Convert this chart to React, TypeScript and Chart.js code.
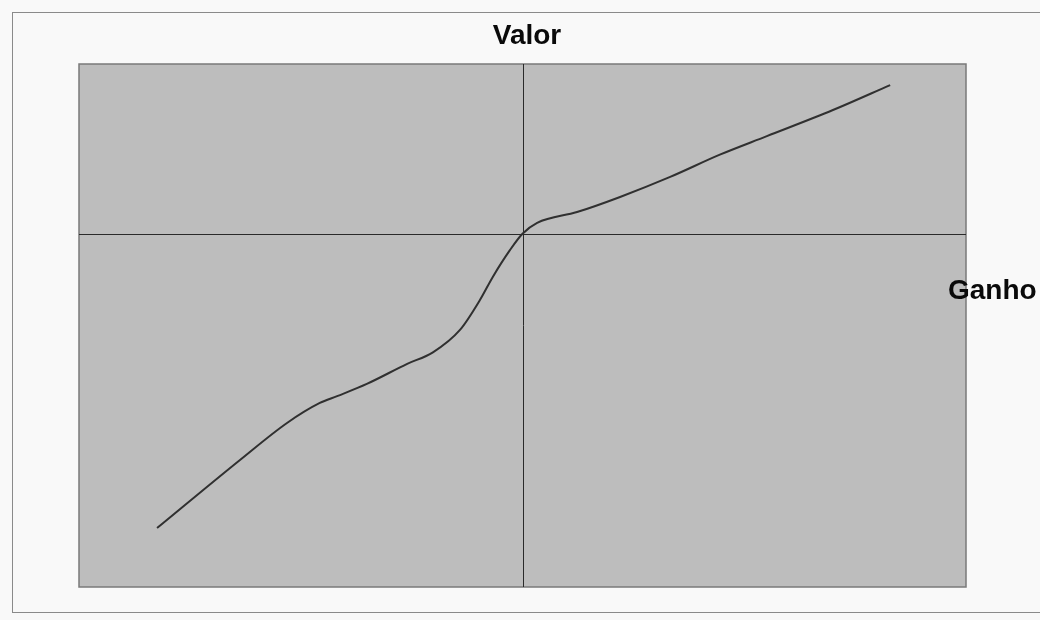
import React, { useEffect, useRef } from "react";
import { Chart, registerables } from "chart.js";

Chart.register(...registerables);

// Gain (x) and value (y) of the curve
const gainX = [-82.4, -63.7, -53.1, -45.7, -41.8, -35.1, -26.0, -20.2, -14.1, -9.6, -6.7, -2.8, 0, 3.3, 12.3, 22.0, 33.3, 44.5, 55.1, 70.0, 82.9];
const valueY = [-173.3, -133.2, -111.4, -99.6, -95.6, -88.4, -76.6, -69.8, -56.6, -39.0, -25.4, -9.5, 0, 6.4, 12.8, 21.7, 33.5, 46.6, 57.5, 72.9, 87.6];

const xRange = [-100, 100];
const yRange = [-208, 100];

const titleText = "Valor";
const xAxisLabel = "Ganho";

const framePlugin = {
  id: "frameDecor",
  beforeDraw(chart: any) {
    const { ctx, chartArea, width, height } = chart;
    ctx.save();
    ctx.fillStyle = "#f9f9f9";
    ctx.fillRect(0, 0, width, height);
    // outer frame
    ctx.strokeStyle = "#8a8a8a";
    ctx.lineWidth = 1;
    ctx.strokeRect(12.5, 12.5, width, 600);
    // plot area
    ctx.fillStyle = "#bdbdbd";
    ctx.fillRect(chartArea.left, chartArea.top, chartArea.right - chartArea.left, chartArea.bottom - chartArea.top);
    ctx.strokeStyle = "#7a7a7a";
    ctx.lineWidth = 1.5;
    ctx.strokeRect(chartArea.left, chartArea.top, chartArea.right - chartArea.left, chartArea.bottom - chartArea.top);
    ctx.restore();
  },
  beforeDatasetsDraw(chart: any) {
    const { ctx, chartArea, scales } = chart;
    const x0 = Math.round(scales.x.getPixelForValue(0)) + 0.5;
    const y0 = Math.round(scales.y.getPixelForValue(0)) + 0.5;
    ctx.save();
    ctx.strokeStyle = "#2a2a2a";
    ctx.lineWidth = 1;
    ctx.beginPath();
    ctx.moveTo(x0, chartArea.top);
    ctx.lineTo(x0, chartArea.bottom);
    ctx.moveTo(chartArea.left, y0);
    ctx.lineTo(chartArea.right, y0);
    ctx.stroke();
    ctx.restore();
  },
  afterDraw(chart: any) {
    const { ctx } = chart;
    ctx.save();
    ctx.fillStyle = "#0a0a0a";
    ctx.font = "bold 28px 'Liberation Sans', Arial, sans-serif";
    ctx.textBaseline = "alphabetic";
    ctx.textAlign = "center";
    ctx.fillText(titleText, 527, 44);
    ctx.textAlign = "left";
    ctx.fillText(xAxisLabel, 948, 299);
    ctx.restore();
  },
};

export default function App() {
  const canvasRef = useRef<HTMLCanvasElement | null>(null);

  useEffect(() => {
    document.body.style.margin = "0";
    const canvas = canvasRef.current;
    if (!canvas) return;
    const points = gainX.map((x, i) => ({ x, y: valueY[i] }));
    const chart = new Chart(canvas, {
      type: "line",
      data: {
        datasets: [
          {
            data: points,
            borderColor: "#303030",
            borderWidth: 2,
            pointRadius: 0,
            cubicInterpolationMode: "monotone",
            fill: false,
          },
        ],
      },
      plugins: [framePlugin],
      options: {
        responsive: false,
        animation: false,
        devicePixelRatio: 1,
        layout: { padding: { left: 79, right: 74, top: 64, bottom: 33 } },
        plugins: {
          legend: { display: false },
          title: { display: false },
          tooltip: { enabled: false },
        },
        scales: {
          x: { type: "linear", min: xRange[0], max: xRange[1], display: false },
          y: { type: "linear", min: yRange[0], max: yRange[1], display: false },
        },
      },
    });
    return () => chart.destroy();
  }, []);

  return (
    <canvas
      ref={canvasRef}
      width={1040}
      height={620}
      style={{ display: "block", width: 1040, height: 620 }}
    />
  );
}
